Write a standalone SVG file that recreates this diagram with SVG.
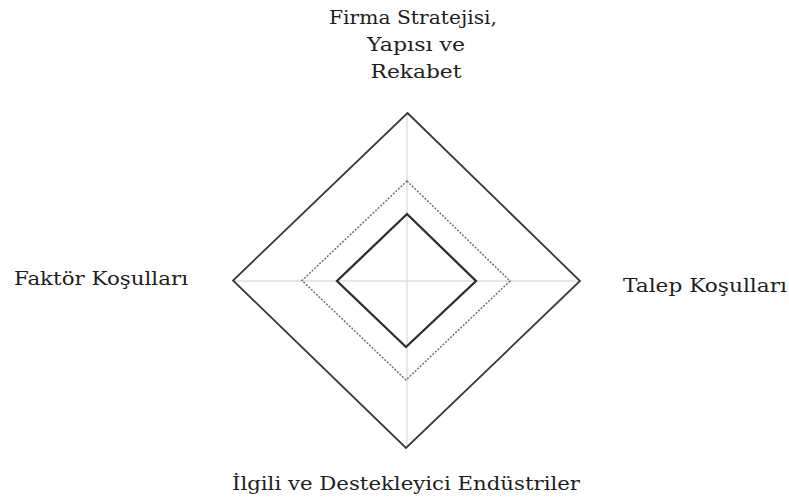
<svg xmlns="http://www.w3.org/2000/svg" width="789" height="502" viewBox="0 0 789 502">
  <style>
    .label { font-family: "DejaVu Serif", "Liberation Serif", serif; font-size: 19px; fill: #1e1e1e; }
    .axis { stroke: #cfcfcf; stroke-width: 1; fill: none; }
    .outer { stroke: #3a3a3a; stroke-width: 1.8; fill: none; stroke-linejoin: miter; }
    .middle { stroke: #707070; stroke-width: 1.5; fill: none; stroke-dasharray: 2 1.5; }
    .inner { stroke: #2e2e2e; stroke-width: 2.3; fill: none; stroke-linejoin: miter; }
  </style>
  <rect width="789" height="502" fill="#ffffff"/>

  <!-- axes joining the four factors -->
  <g id="connectors">
    <line class="axis" x1="407" y1="113" x2="407" y2="448"/>
    <line class="axis" x1="233" y1="281" x2="580" y2="281"/>
  </g>

  <!-- concentric diamonds -->
  <g id="outer-diamond">
    <polygon class="outer" points="407.5,113 580,281 406,448 233,280.5"/>
  </g>
  <g id="middle-diamond">
    <polygon class="middle" points="407,181 510,281 406,380 302,280.5"/>
  </g>
  <g id="inner-diamond">
    <polygon class="inner" points="407,214 476,281 406,347 337,281"/>
  </g>

  <!-- factor labels -->
  <g id="node-firma">
    <text class="label" x="413" y="23.5" text-anchor="middle" textLength="168" lengthAdjust="spacingAndGlyphs">Firma Stratejisi,</text>
    <text class="label" x="416" y="50.5" text-anchor="middle" textLength="98" lengthAdjust="spacingAndGlyphs">Yapısı ve</text>
    <text class="label" x="416" y="77.5" text-anchor="middle" textLength="91" lengthAdjust="spacingAndGlyphs">Rekabet</text>
  </g>
  <g id="node-faktor">
    <text class="label" x="14" y="285" textLength="174" lengthAdjust="spacingAndGlyphs">Faktör Koşulları</text>
  </g>
  <g id="node-talep">
    <text class="label" x="623" y="292" textLength="164" lengthAdjust="spacingAndGlyphs">Talep Koşulları</text>
  </g>
  <g id="node-ilgili">
    <text class="label" x="232" y="490" textLength="348" lengthAdjust="spacingAndGlyphs">İlgili ve Destekleyici Endüstriler</text>
  </g>
</svg>
